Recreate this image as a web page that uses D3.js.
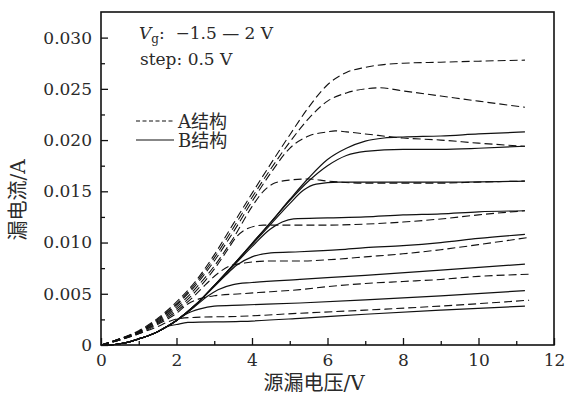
<!DOCTYPE html>
<html>
<head>
<meta charset="utf-8">
<script src="https://cdn.jsdelivr.net/npm/d3@7"></script>
<style>
  body { margin: 0; background: #fff; }
  text { fill: #2a2a2a; }
</style>
</head>
<body>
<div id="chart"></div>
<script>
// source-drain voltage (V) vs drain current (A), Vg = 2 ... -1.5 V (top to bottom)
const xTicks = [0, 2, 4, 6, 8, 10, 12];
const xMinor = [1, 3, 5, 7, 9, 11];
const yTicks = [0, 0.005, 0.010, 0.015, 0.020, 0.025, 0.030];
const yMinor = [0.0025, 0.0075, 0.0125, 0.0175, 0.0225, 0.0275];

// A structure (dashed)
const a1 = [[0,0],[0.5,0.0006],[1,0.0014],[1.5,0.0026],[2,0.0042],[2.5,0.0062],[3,0.0088],[3.5,0.0118],[4,0.0148],[4.5,0.0177],[5,0.0205],[5.5,0.0232],[6,0.0254],[6.5,0.0266],[7,0.0271],[8,0.0275],[9,0.0276],[10,0.0277],[11.23,0.0278]];
const a2 = [[0,0],[0.5,0.0006],[1,0.0013],[1.5,0.0025],[2,0.0040],[2.5,0.0060],[3,0.0085],[3.5,0.0114],[4,0.0144],[4.5,0.0172],[5,0.0198],[5.5,0.0221],[6,0.0238],[6.5,0.0246],[7,0.0250],[7.4,0.0251],[8,0.0248],[9,0.0243],[10,0.0238],[11.23,0.0232]];
const a3 = [[0,0],[0.5,0.0006],[1,0.0013],[1.5,0.0024],[2,0.0039],[2.5,0.0058],[3,0.0082],[3.5,0.0110],[4,0.0140],[4.5,0.0168],[5,0.0192],[5.5,0.0204],[6,0.0208],[6.2,0.0209],[6.5,0.0208],[7,0.0206],[8,0.0202],[9,0.0200],[10,0.0197],[11.23,0.0194]];
const a4 = [[0,0],[0.5,0.0006],[1,0.0013],[1.5,0.0023],[2,0.0037],[2.5,0.0055],[3,0.0077],[3.5,0.0104],[4,0.0135],[4.3,0.0150],[4.6,0.0158],[5,0.0161],[5.5,0.0162],[6,0.0160],[7,0.0158],[8,0.0158],[9,0.0158],[10,0.0159],[11.23,0.0160]];
const a5 = [[0,0],[0.5,0.0005],[1,0.0012],[1.5,0.0022],[2,0.0035],[2.5,0.0052],[3,0.0074],[3.3,0.0090],[3.6,0.0106],[3.9,0.0114],[4.3,0.0117],[5,0.0117],[6,0.0117],[7,0.0118],[8,0.0120],[9,0.0123],[10,0.0127],[11.23,0.0131]];
const a6 = [[0,0],[0.5,0.0005],[1,0.0012],[1.5,0.0021],[2,0.0033],[2.5,0.0049],[2.8,0.0060],[3.1,0.0070],[3.4,0.0077],[3.8,0.0080],[4.5,0.0082],[5.27,0.0082],[6.33,0.0084],[7,0.0086],[8,0.0089],[9,0.0093],[10,0.0098],[11.34,0.0105]];
const a7 = [[0,0],[0.5,0.0005],[1,0.0011],[1.5,0.0020],[2,0.0031],[2.3,0.0040],[2.6,0.0045],[3,0.0048],[3.7,0.0050],[4.5,0.0052],[5.27,0.0054],[6,0.0057],[7,0.0060],[8,0.0062],[9,0.0064],[10,0.0067],[11.34,0.0069]];
const a8 = [[0,0],[0.5,0.0005],[1,0.0011],[1.5,0.0018],[1.8,0.0023],[2.1,0.0026],[2.5,0.0027],[3.7,0.0028],[5.27,0.0031],[7,0.0034],[9,0.0038],[11.34,0.00437]];

// B structure (solid), common square-law start
const bStart = [[0,0],[0.25,0.00002],[0.5,0.00012],[0.75,0.0003],[1,0.0006],[1.25,0.0009],[1.5,0.0013],[1.75,0.0018]];
const b1 = bStart.concat([[2,0.0024],[2.5,0.0039],[3,0.0058],[3.5,0.0078],[4,0.0099],[4.5,0.0120],[5,0.0142],[5.5,0.0163],[6,0.0181],[6.5,0.0192],[7,0.0199],[7.5,0.0202],[8,0.0203],[9,0.0204],[10,0.0206],[11.23,0.0208]]);
const b2 = bStart.concat([[2,0.0024],[2.5,0.0039],[3,0.0058],[3.5,0.0078],[4,0.0099],[4.5,0.0120],[5,0.0141],[5.5,0.0160],[6,0.0175],[6.5,0.0185],[7,0.0189],[8,0.0191],[9,0.0191],[10,0.0192],[11.23,0.0194]]);
const b3 = bStart.concat([[2,0.0024],[2.5,0.0039],[3,0.0058],[3.5,0.0078],[4,0.0098],[4.5,0.0118],[5,0.0138],[5.36,0.0151],[5.7,0.0157],[6.3,0.0159],[7,0.0159],[9,0.0159],[11.23,0.0160]]);
const b4 = bStart.concat([[2,0.0024],[2.5,0.0039],[3,0.0058],[3.5,0.0077],[4,0.0096],[4.48,0.0113],[4.8,0.0120],[5.1,0.0123],[6,0.0124],[7,0.0125],[8,0.0127],[9,0.0128],[10,0.0130],[11.23,0.0131]]);
const b5 = bStart.concat([[2,0.0024],[2.5,0.0039],[3,0.0057],[3.3,0.0068],[3.6,0.0078],[4,0.0086],[4.5,0.0090],[5.27,0.0091],[6.33,0.0093],[7,0.0095],[8,0.0097],[9,0.0100],[10,0.0104],[11.23,0.0108]]);
const b6 = bStart.concat([[2,0.0024],[2.5,0.0038],[2.8,0.0047],[3.1,0.0054],[3.5,0.0059],[4,0.0061],[5.27,0.0064],[7,0.0068],[9,0.0073],[11.23,0.0079]]);
const b7 = bStart.concat([[2,0.0024],[2.3,0.0031],[2.6,0.0035],[3,0.0038],[3.7,0.0039],[5.27,0.0041],[7,0.0044],[9,0.0048],[11.23,0.0053]]);
const b8 = bStart.concat([[2,0.0020],[2.3,0.0022],[3.7,0.0023],[5.27,0.0026],[7,0.0030],[9,0.0034],[11.23,0.0038]]);

const aCurves = [a1, a2, a3, a4, a5, a6, a7, a8];
const bCurves = [b1, b2, b3, b4, b5, b6, b7, b8];

const width = 568, height = 398;
const plotLeft = 101, plotRight = 554, plotTop = 12, plotBottom = 345;
const serif = "'DejaVu Serif', 'Noto Sans CJK SC', serif";

const svg = d3.select("#chart").append("svg")
  .attr("width", width)
  .attr("height", height);

const x = d3.scaleLinear().domain([0, 12]).range([plotLeft, plotRight]);
const y = d3.scaleLinear().domain([0, 0.0325]).range([plotBottom, plotTop]);

const line = d3.line()
  .x(d => x(d[0]))
  .y(d => y(d[1]))
  .curve(d3.curveMonotoneX);

// curves
svg.append("g").selectAll("path")
  .data(aCurves)
  .enter().append("path")
  .attr("d", line)
  .attr("fill", "none")
  .attr("stroke", "#111")
  .attr("stroke-width", 1.1)
  .attr("stroke-dasharray", "8,4");

svg.append("g").selectAll("path")
  .data(bCurves)
  .enter().append("path")
  .attr("d", line)
  .attr("fill", "none")
  .attr("stroke", "#111")
  .attr("stroke-width", 1.2);

// axes, ticks pointing inward
svg.append("g")
  .attr("transform", `translate(0,${plotBottom})`)
  .call(d3.axisBottom(x).tickValues(xTicks).tickSize(-7).tickPadding(9).tickFormat(d3.format("d")));
svg.append("g")
  .attr("transform", `translate(0,${plotBottom})`)
  .call(d3.axisBottom(x).tickValues(xMinor).tickSize(-4).tickFormat(""));

svg.append("g")
  .attr("transform", `translate(${plotLeft},0)`)
  .call(d3.axisLeft(y).tickValues(yTicks).tickSize(-7).tickPadding(9)
    .tickFormat(d => d === 0 ? "0" : d3.format(".3f")(d)));
svg.append("g")
  .attr("transform", `translate(${plotLeft},0)`)
  .call(d3.axisLeft(y).tickValues(yMinor).tickSize(-4).tickFormat(""));

svg.selectAll(".domain").remove();
svg.selectAll(".tick line").attr("stroke", "#111").attr("stroke-width", 1.3);
svg.selectAll(".tick text")
  .style("font-family", serif)
  .style("font-size", "17px")
  .attr("fill", "#2a2a2a");

// frame
svg.append("rect")
  .attr("x", plotLeft).attr("y", plotTop)
  .attr("width", plotRight - plotLeft).attr("height", plotBottom - plotTop)
  .attr("fill", "none")
  .attr("stroke", "#111")
  .attr("stroke-width", 1.6);

// axis titles
svg.append("text")
  .attr("x", 314).attr("y", 390)
  .attr("text-anchor", "middle")
  .style("font-family", serif)
  .style("font-size", "20px")
  .text("源漏电压/V");

svg.append("text")
  .attr("transform", "translate(25,200) rotate(-90)")
  .attr("text-anchor", "middle")
  .style("font-family", serif)
  .style("font-size", "20px")
  .text("漏电流/A");

// annotation
const note = svg.append("text")
  .attr("x", 139).attr("y", 39)
  .style("font-family", serif)
  .style("font-size", "17px")
  .style("white-space", "pre");
note.append("tspan").style("font-style", "italic").text("V");
note.append("tspan").attr("dy", 4).style("font-size", "12px").text("g");
note.append("tspan").attr("dy", -4).text(":  −1.5 — 2 V");

svg.append("text")
  .attr("x", 140).attr("y", 65)
  .style("font-family", serif)
  .style("font-size", "17px")
  .text("step: 0.5 V");

// legend
const legend = [
  { label: "A结构", dash: "4,2.5", y: 121 },
  { label: "B结构", dash: null, y: 140 }
];
const lg = svg.append("g").selectAll("g")
  .data(legend)
  .enter().append("g");
lg.append("line")
  .attr("x1", 136).attr("x2", 174)
  .attr("y1", d => d.y).attr("y2", d => d.y)
  .attr("stroke", "#111")
  .attr("stroke-width", 1.1)
  .attr("stroke-dasharray", d => d.dash);
lg.append("text")
  .attr("x", 178).attr("y", d => d.y + 7)
  .style("font-family", serif)
  .style("font-size", "18px")
  .text(d => d.label);
</script>
</body>
</html>
